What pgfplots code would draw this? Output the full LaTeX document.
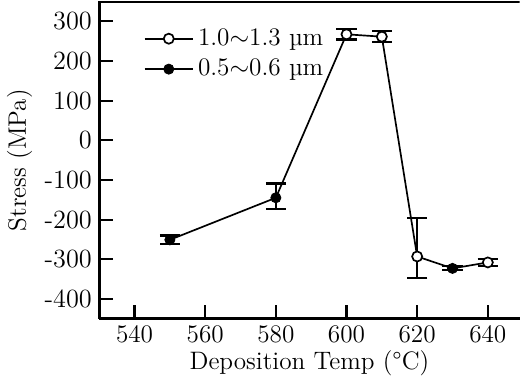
\documentclass[border=0pt]{standalone}
\usepackage{pgfplots}
\pgfplotsset{compat=1.18}
\begin{document}
\begin{tikzpicture}
\begin{axis}[
  scale only axis, width=200pt, height=151pt,
  xmin=530, xmax=649, ymin=-450, ymax=350,
  xtick={540,560,...,640}, ytick={-400,-300,...,300},
  yticklabels={-400,-300,-200,-100,0,100,200,300},
  axis x line*=bottom, axis y line*=left,
  axis line style={-, line width=1.3pt},
  tick align=inside, major tick length=6.7pt,
  tick style={line width=1pt, black},
  ticklabel style={font=\fontsize{12.5}{14}\selectfont},
  label style={font=\fontsize{12}{14}\selectfont},
  xlabel={Deposition Temp (°C)},
  ylabel={Stress (MPa)},
  xlabel style={yshift=3pt},
  ylabel style={yshift=-1pt},
  legend style={draw=none, fill=none, at={(0.1,0.935)}, anchor=north west,
    font=\fontsize{12}{14}\selectfont, row sep=1pt, inner sep=1pt},
  legend cell align=left,
  legend image code/.code={\draw[black, line width=0.8pt] (0pt,0pt) -- (23pt,0pt); \draw[#1] plot coordinates {(11.5pt,0pt)};},
]
\draw[line width=1.3pt] (rel axis cs:0,1) -- (rel axis cs:1,1);
\addplot[black, line width=0.8pt, forget plot] coordinates {
  (550,-251) (580,-145) (600,267) (610,261) (620,-293) (630,-323) (640,-308)};
\addplot[black, only marks, mark=*, mark size=2.4pt, mark options={fill=white, line width=0.8pt},
  error bars/.cd, y dir=both, y explicit,
  error bar style={line width=1pt}, error mark options={rotate=90, mark size=4.8pt, line width=1pt}]
  coordinates {
  (600,267) +- (0,13)
  (610,261) +- (0,14)
  (620,-293) += (0,97) -= (0,55)
  (640,-308) +- (0,8)
};
\addlegendentry{1.0$\sim$1.3 \textmu m}
\addplot[black, only marks, mark=*, mark size=2.4pt, mark options={fill=black},
  error bars/.cd, y dir=both, y explicit,
  error bar style={line width=1pt}, error mark options={rotate=90, mark size=4.8pt, line width=1pt}]
  coordinates {
  (550,-251) +- (0,11)
  (580,-145) += (0,36) -= (0,29)
  (630,-323) +- (0,5)
};
\addlegendentry{0.5$\sim$0.6 \textmu m}
\end{axis}
\end{tikzpicture}
\end{document}
